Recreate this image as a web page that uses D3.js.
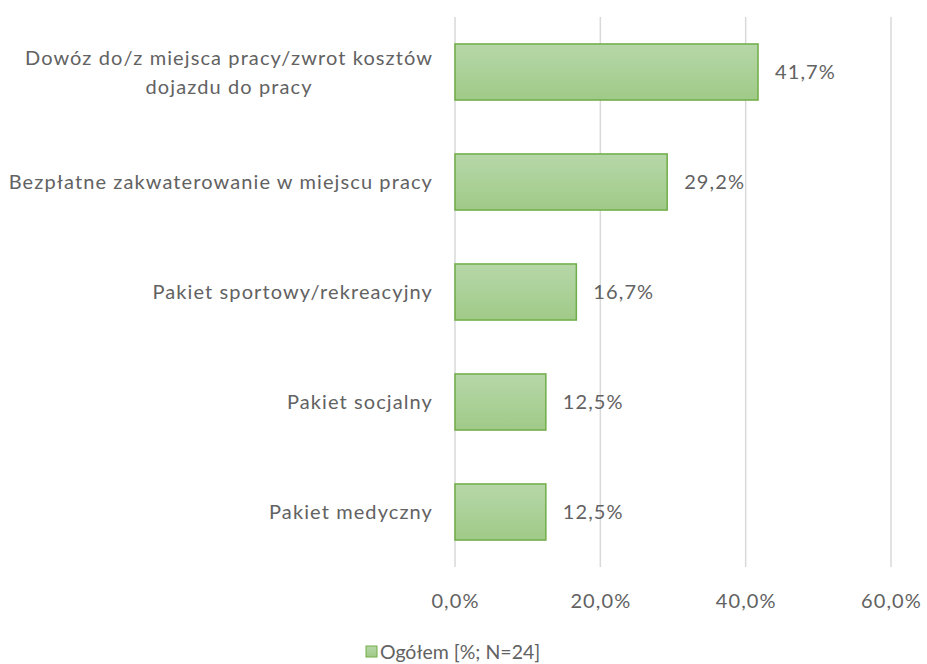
<!DOCTYPE html>
<html>
<head>
<meta charset="utf-8">
<script src="https://cdn.jsdelivr.net/npm/d3@7"></script>
<style>
  body { margin: 0; background: #fff; }
  text { font-family: Lato, "Open Sans", sans-serif; fill: #626262; font-size: 20px; letter-spacing: 1.1px; }
</style>
</head>
<body>
<div id="chart"></div>
<script>
var categories = [
    ["Dowóz do/z miejsca pracy/zwrot kosztów", "dojazdu do pracy"],
    ["Bezpłatne zakwaterowanie w miejscu pracy"],
    ["Pakiet sportowy/rekreacyjny"],
    ["Pakiet socjalny"],
    ["Pakiet medyczny"]
];
var values = [41.7, 29.2, 16.7, 12.5, 12.5];
var ticks = [0, 20, 40, 60];
var seriesName = "Ogółem [%; N=24]";

var W = 927, H = 664;
var margin = {top: 17, right: 36, bottom: 97, left: 455},
    width = W - margin.left - margin.right,
    height = H - margin.top - margin.bottom;

var svg = d3.select("#chart").append("svg")
    .attr("width", W)
    .attr("height", H);

var defs = svg.append("defs");
var grad = defs.append("linearGradient")
    .attr("id", "barGrad")
    .attr("x1", 0).attr("y1", 0).attr("x2", 0).attr("y2", 1);
grad.append("stop").attr("offset", "0%").attr("stop-color", "#b6d7a8");
grad.append("stop").attr("offset", "100%").attr("stop-color", "#a0ca88");

var g = svg.append("g")
    .attr("transform", "translate(" + margin.left + "," + margin.top + ")");

var x = d3.scaleLinear().domain([0, 60]).range([0, 436]);
var y = d3.scaleBand()
    .domain(d3.range(categories.length))
    .range([0, height])
    .paddingInner(0.49)
    .paddingOuter(0.245);

// gridlines
g.selectAll(".grid")
    .data(ticks)
    .enter().append("line")
    .attr("class", "grid")
    .attr("x1", function (d) { return x(d); })
    .attr("x2", function (d) { return x(d); })
    .attr("y1", 0)
    .attr("y2", height)
    .attr("stroke", "#d9d9d9")
    .attr("stroke-width", 1.5);

// x axis labels
var xAxis = g.append("g")
    .attr("transform", "translate(0," + height + ")")
    .call(d3.axisBottom(x).tickValues(ticks).tickSize(0).tickPadding(27)
        .tickFormat(function (d) { return d.toFixed(1).replace(".", ",") + "%"; }));
xAxis.select(".domain").remove();
xAxis.attr("font-family", null).attr("font-size", null);
xAxis.selectAll("text").attr("fill", null);

// bars
g.selectAll(".bar")
    .data(values)
    .enter().append("rect")
    .attr("class", "bar")
    .attr("x", x(0))
    .attr("y", function (d, i) { return y(i); })
    .attr("width", function (d) { return x(d) - x(0); })
    .attr("height", y.bandwidth())
    .attr("fill", "url(#barGrad)")
    .attr("stroke", "#70ad47")
    .attr("stroke-width", 1.5);

// value labels
g.selectAll(".val")
    .data(values)
    .enter().append("text")
    .attr("class", "val")
    .attr("x", function (d) { return x(d) + 17; })
    .attr("y", function (d, i) { return y(i) + y.bandwidth() / 2; })
    .attr("dy", "0.35em")
    .text(function (d) { return d.toFixed(1).replace(".", ",") + "%"; });

// category labels: right-aligned block, lines centred inside it
var lineH = 29;
var labelRight = -22;
g.selectAll(".cat")
    .data(categories)
    .enter().append("text")
    .attr("class", "cat")
    .attr("y", function (d, i) {
        return y(i) + y.bandwidth() / 2 - (d.length - 1) * lineH / 2;
    })
    .each(function (d) {
        var t = d3.select(this);
        d.forEach(function (line, k) {
            t.append("tspan")
                .attr("dy", k === 0 ? "0.35em" : lineH)
                .text(line);
        });
        var maxW = 0;
        t.selectAll("tspan").each(function () {
            maxW = Math.max(maxW, this.getComputedTextLength());
        });
        t.attr("text-anchor", "middle");
        t.selectAll("tspan").attr("x", labelRight - maxW / 2);
    });

// legend
var legend = svg.append("g")
    .attr("transform", "translate(366,646)");
legend.append("rect")
    .attr("width", 11).attr("height", 11)
    .attr("fill", "url(#barGrad)")
    .attr("stroke", "#70ad47")
    .attr("stroke-width", 1);
legend.append("text")
    .attr("x", 14)
    .attr("y", 6)
    .attr("dy", "0.35em")
    .style("font-size", "19.5px")
    .style("letter-spacing", "0px")
    .text(seriesName);
</script>
</body>
</html>
